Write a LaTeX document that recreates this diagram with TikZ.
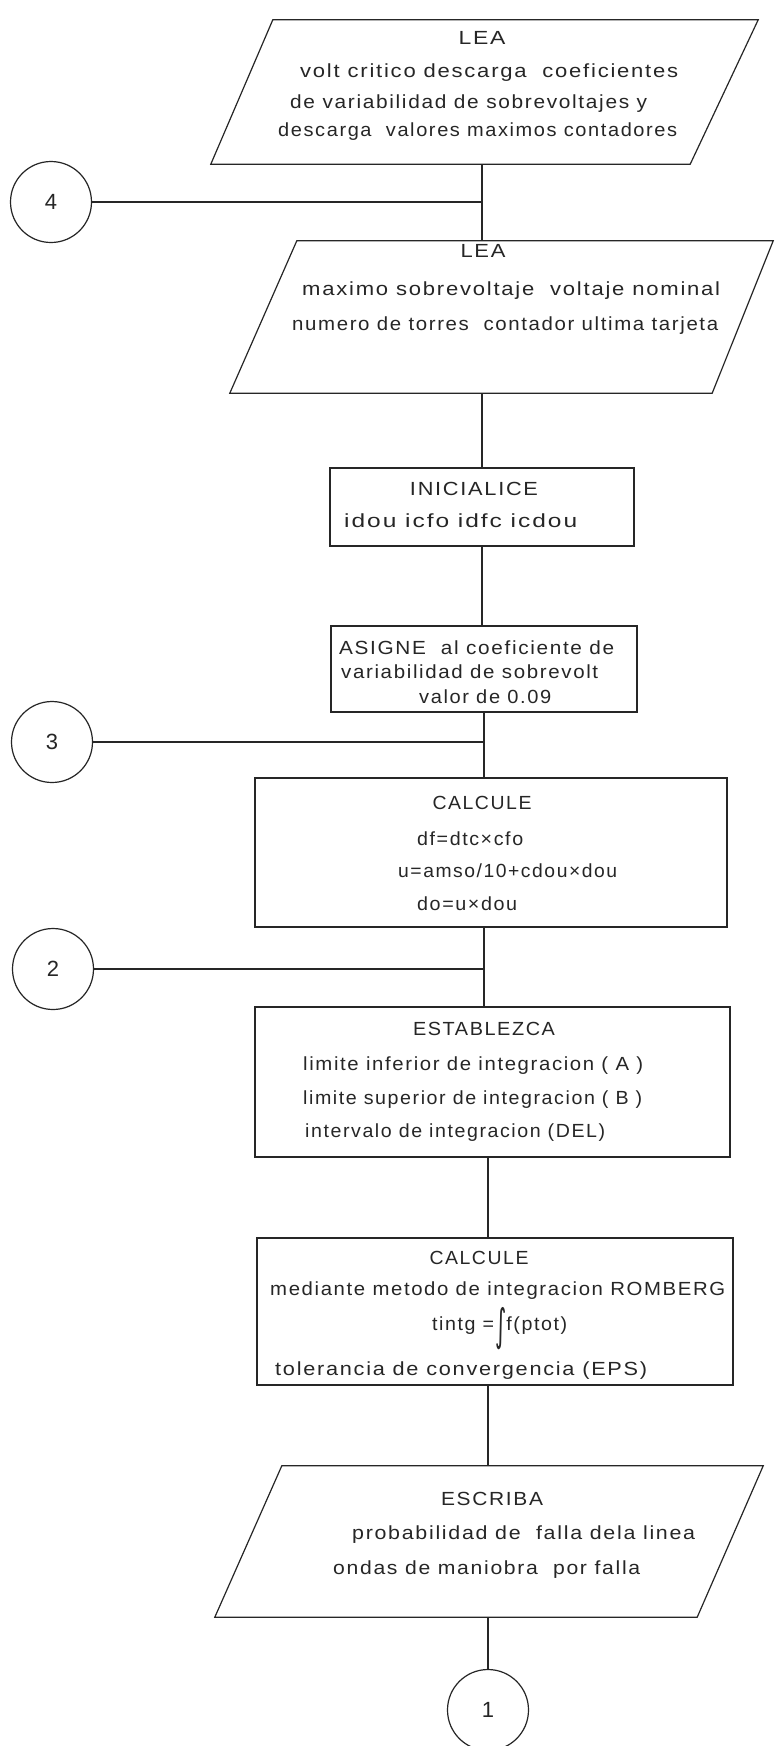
\documentclass[tikz,border=0pt]{standalone}
\usepackage{fontspec}
\usepackage{graphicx}
\setmainfont{Liberation Sans}
\newfontfamily\hand[LetterSpace=8]{Liberation Sans}
\newfontfamily\dvs{DejaVu Sans}
\usetikzlibrary{calc}
\newcommand\fitw[2]{\resizebox{#1}{\height}{#2}}
\tikzset{
  ln/.style={line width=1.2pt, draw=black!85},
  blk/.style={ln, rectangle, inner sep=0pt},
  frame/.style={inner sep=0pt, draw=none, rectangle},
  conn/.style={ln, circle, inner sep=0pt, minimum size=81pt, font=\hand\fontsize{22}{24}\selectfont, text=black!85},
  tx/.style={inner sep=0pt, font=\hand\fontsize{19}{21}\selectfont, text=black!85, anchor=mid west},
  tc/.style={tx, anchor=mid},
}
\begin{document}
\begin{tikzpicture}[x=1pt,y=-1pt]
\useasboundingbox[fill=white] (0,0) rectangle (775,1746);

% --- parallelogram frames (named) ---
\node[frame, minimum width=547pt, minimum height=144pt] (p1) at (484.5,92) {};
\draw[ln] (p1.south west) -- ([xshift=-68pt]p1.south east) -- (p1.north east) -- ([xshift=62pt]p1.north west) -- cycle;
\node[frame, minimum width=543pt, minimum height=152pt] (p2) at (501.5,317) {};
\draw[ln] (p2.south west) -- ([xshift=-61pt]p2.south east) -- (p2.north east) -- ([xshift=67pt]p2.north west) -- cycle;
\node[frame, minimum width=548pt, minimum height=151pt] (esc) at (489,1541.5) {};
\draw[ln] (esc.south west) -- ([xshift=-66pt]esc.south east) -- (esc.north east) -- ([xshift=67pt]esc.north west) -- cycle;

% --- process boxes ---
\node[blk, draw, minimum width=304pt, minimum height=78pt] (ini) at (482,507) {};
\node[blk, draw, minimum width=306pt, minimum height=86pt] (asg) at (484,669) {};
\node[blk, draw, minimum width=472pt, minimum height=149pt] (cal1) at (491,852.5) {};
\node[blk, draw, minimum width=475pt, minimum height=150pt] (est) at (492.5,1082) {};
\node[blk, draw, minimum width=476pt, minimum height=147pt] (cal2) at (495,1311.5) {};

% --- connectors (circles) ---
\node[conn, draw] (c4) at (51,202) {4};
\node[conn, draw] (c3) at (52,742) {3};
\node[conn, draw] (c2) at (53,969) {2};
\node[conn, draw] (c1) at (488,1710) {1};

% --- lines ---
\draw[ln] (ini.north |- p1.south) -- (ini.north |- p2.north);
\draw[ln] (c4.east) -- (c4.east -| ini.north);
\draw[ln] (ini.north |- p2.south) -- (ini.north);
\draw[ln] (ini.south) -- (ini.south |- asg.north);
\draw[ln] (asg.south) -- (asg.south |- cal1.north);
\draw[ln] (c3.east) -- (c3.east -| asg.south);
\draw[ln] (asg.south |- cal1.south) -- (asg.south |- est.north);
\draw[ln] (c2.east) -- (c2.east -| asg.south);
\draw[ln] (c1.north |- est.south) -- (c1.north |- cal2.north);
\draw[ln] (c1.north |- cal2.south) -- (c1.north |- esc.north);
\draw[ln] (c1.north |- esc.south) -- (c1.north);

% --- texts ---
\node[tc] (t1) at (482,42) {\fitw{47pt}{LEA}};
\node[tx] (t2) at (300,75) {\fitw{378pt}{volt critico descarga\ \ coeficientes}};
\node[tx] (t3) at (290,106) {\fitw{357pt}{de variabilidad de sobrevoltajes y}};
\node[tx] (t4) at (278,134) {\fitw{399pt}{descarga\ \ valores maximos contadores}};

\node[tc] (t5) at (483,255) {\fitw{45pt}{LEA}};
\node[tx] (t6) at (302,293) {\fitw{418pt}{maximo sobrevoltaje\ \ voltaje nominal}};
\node[tx] (t7) at (292,328) {\fitw{426pt}{numero de torres\ \ contador ultima tarjeta}};

\node[tc] (t8) at (474,493) {\fitw{128pt}{INICIALICE}};
\node[tx] (t9) at (344,525) {\fitw{233pt}{idou icfo idfc icdou}};

\node[tx] (t10) at (339,652) {\fitw{275pt}{ASIGNE\ \ al coeficiente de}};
\node[tx] (t11) at (341,676) {\fitw{257pt}{variabilidad de sobrevolt}};
\node[tx] (t12) at (419,701) {\fitw{132pt}{valor de 0.09}};

\node[tc] (t13) at (482,807) {\fitw{99pt}{CALCULE}};
\node[tx] (t14) at (417,843) {\fitw{106pt}{df=dtc×cfo}};
\node[tx] (t15) at (398,875) {\fitw{219pt}{u=amso/10+cdou×dou}};
\node[tx] (t16) at (417,908) {\fitw{100pt}{do=u×dou}};

\node[tc] (t17) at (484,1033) {\fitw{142pt}{ESTABLEZCA}};
\node[tx] (t18) at (303,1068) {\fitw{340pt}{limite inferior de integracion ( A )}};
\node[tx] (t19) at (303,1102) {\fitw{339pt}{limite superior de integracion ( B )}};
\node[tx] (t20) at (305,1135) {\fitw{300pt}{intervalo de integracion (DEL)}};

\node[tc] (t21) at (479,1262) {\fitw{99pt}{CALCULE}};
\node[tx] (t22) at (270,1293) {\fitw{455pt}{mediante metodo de integracion ROMBERG}};
\node[tx] (t23) at (432,1328) {\fitw{135pt}{tintg =\hspace{1pt}\raisebox{-10pt}{\scalebox{1.1}[2.3]{\dvs ∫}}f(ptot)}};
\node[tx] (t24) at (275,1373) {\fitw{372pt}{tolerancia de convergencia (EPS)}};

\node[tc] (t25) at (492,1503) {\fitw{102pt}{ESCRIBA}};
\node[tx] (t26) at (352,1537) {\fitw{343pt}{probabilidad de\ \ falla dela linea}};
\node[tx] (t27) at (333,1572) {\fitw{307pt}{ondas de maniobra\ \ por falla}};
\end{tikzpicture}
\end{document}
